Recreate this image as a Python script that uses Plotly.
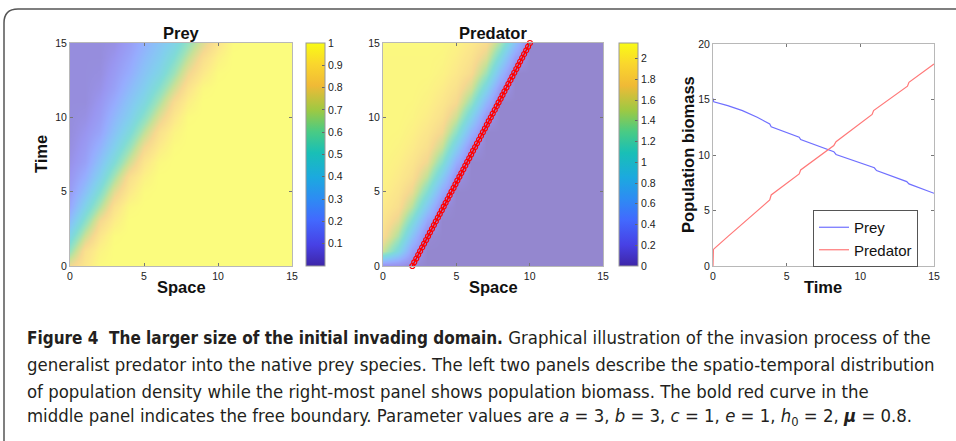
import plotly.graph_objects as go

W, H = 956, 441

# ---------------- data ----------------
space = list(range(16))          # x grid (Space) 0..15
time = list(range(16))           # t grid (Time) 0..15

# prey density u(t, x): rows = time 0..15, cols = space 0..15
prey_density = [
    [0.80, 0.90, 0.99, 1, 1, 1, 1, 1, 1, 1, 1, 1, 1, 1, 1, 1],
    [0.60, 0.86, 0.96, 1, 1, 1, 1, 1, 1, 1, 1, 1, 1, 1, 1, 1],
    [0.45, 0.71, 0.90, 0.99, 1, 1, 1, 1, 1, 1, 1, 1, 1, 1, 1, 1],
    [0.30, 0.56, 0.81, 0.93, 1, 1, 1, 1, 1, 1, 1, 1, 1, 1, 1, 1],
    [0.19, 0.43, 0.66, 0.87, 0.98, 1, 1, 1, 1, 1, 1, 1, 1, 1, 1, 1],
    [0.13, 0.31, 0.53, 0.76, 0.91, 0.99, 1, 1, 1, 1, 1, 1, 1, 1, 1, 1],
    [0.10, 0.22, 0.41, 0.63, 0.85, 0.95, 1, 1, 1, 1, 1, 1, 1, 1, 1, 1],
    [0.07, 0.15, 0.32, 0.50, 0.71, 0.89, 0.98, 1, 1, 1, 1, 1, 1, 1, 1, 1],
    [0.05, 0.12, 0.24, 0.40, 0.59, 0.80, 0.92, 0.99, 1, 1, 1, 1, 1, 1, 1, 1],
    [0.04, 0.09, 0.17, 0.32, 0.48, 0.68, 0.86, 0.96, 1, 1, 1, 1, 1, 1, 1, 1],
    [0.04, 0.06, 0.13, 0.26, 0.39, 0.56, 0.75, 0.90, 0.99, 1, 1, 1, 1, 1, 1, 1],
    [0.04, 0.04, 0.10, 0.20, 0.33, 0.46, 0.64, 0.83, 0.94, 1, 1, 1, 1, 1, 1, 1],
    [0.04, 0.04, 0.07, 0.15, 0.27, 0.39, 0.54, 0.72, 0.88, 0.98, 1, 1, 1, 1, 1, 1],
    [0.04, 0.04, 0.05, 0.12, 0.21, 0.33, 0.44, 0.61, 0.79, 0.91, 0.99, 1, 1, 1, 1, 1],
    [0.04, 0.04, 0.04, 0.09, 0.17, 0.28, 0.38, 0.52, 0.69, 0.85, 0.95, 1, 1, 1, 1, 1],
    [0.04, 0.04, 0.04, 0.06, 0.13, 0.23, 0.33, 0.43, 0.59, 0.75, 0.89, 0.99, 1, 1, 1, 1],
]

# predator density v(t, x)
predator_density = [
    [0.10, 0.10, 0.05, 0, 0, 0, 0, 0, 0, 0, 0, 0, 0, 0, 0, 0],
    [1.50, 1.00, 0.32, 0, 0, 0, 0, 0, 0, 0, 0, 0, 0, 0, 0, 0],
    [1.80, 1.38, 0.70, 0.04, 0, 0, 0, 0, 0, 0, 0, 0, 0, 0, 0, 0],
    [1.89, 1.64, 1.07, 0.37, 0, 0, 0, 0, 0, 0, 0, 0, 0, 0, 0, 0],
    [1.96, 1.82, 1.42, 0.75, 0.08, 0, 0, 0, 0, 0, 0, 0, 0, 0, 0, 0],
    [2.02, 1.90, 1.67, 1.12, 0.42, 0, 0, 0, 0, 0, 0, 0, 0, 0, 0, 0],
    [2.06, 1.97, 1.83, 1.45, 0.80, 0.13, 0, 0, 0, 0, 0, 0, 0, 0, 0, 0],
    [2.08, 2.02, 1.91, 1.70, 1.17, 0.47, 0, 0, 0, 0, 0, 0, 0, 0, 0, 0],
    [2.10, 2.06, 1.98, 1.84, 1.49, 0.85, 0.17, 0, 0, 0, 0, 0, 0, 0, 0, 0],
    [2.10, 2.09, 2.03, 1.92, 1.72, 1.22, 0.52, 0, 0, 0, 0, 0, 0, 0, 0, 0],
    [2.10, 2.10, 2.07, 1.99, 1.85, 1.53, 0.90, 0.21, 0, 0, 0, 0, 0, 0, 0, 0],
    [2.10, 2.10, 2.09, 2.04, 1.93, 1.76, 1.27, 0.57, 0, 0, 0, 0, 0, 0, 0, 0],
    [2.10, 2.10, 2.10, 2.07, 1.99, 1.86, 1.56, 0.94, 0.25, 0, 0, 0, 0, 0, 0, 0],
    [2.10, 2.10, 2.10, 2.10, 2.05, 1.95, 1.78, 1.32, 0.62, 0, 0, 0, 0, 0, 0, 0],
    [2.10, 2.10, 2.10, 2.10, 2.08, 2.00, 1.87, 1.60, 0.99, 0.29, 0, 0, 0, 0, 0, 0],
    [2.12, 2.12, 2.12, 2.12, 2.10, 2.05, 1.95, 1.80, 1.36, 0.66, 0, 0, 0, 0, 0, 0],
]

# free boundary h(t)
fb_time = [0, 0.25, 0.5, 0.75, 1, 1.25, 1.5, 1.75, 2, 2.25, 2.5, 2.75, 3, 3.25,
           3.5, 3.75, 4, 4.25, 4.5, 4.75, 5, 5.25, 5.5, 5.75, 6, 6.25, 6.5, 6.75,
           7, 7.25, 7.5, 7.75, 8, 8.25, 8.5, 8.75, 9, 9.25, 9.5, 9.75, 10, 10.25,
           10.5, 10.75, 11, 11.25, 11.5, 11.75, 12, 12.25, 12.5, 12.75, 13, 13.25,
           13.5, 13.75, 14, 14.25, 14.5, 14.75, 15]
fb_space = [2.00, 2.13, 2.27, 2.40, 2.53, 2.67, 2.80, 2.94, 3.07, 3.20, 3.34,
            3.47, 3.60, 3.74, 3.87, 4.01, 4.14, 4.27, 4.41, 4.54, 4.67, 4.81,
            4.94, 5.07, 5.21, 5.34, 5.48, 5.61, 5.74, 5.88, 6.01, 6.14, 6.28,
            6.41, 6.55, 6.68, 6.81, 6.95, 7.08, 7.21, 7.35, 7.48, 7.62, 7.75,
            7.88, 8.02, 8.15, 8.28, 8.42, 8.55, 8.69, 8.82, 8.95, 9.09, 9.22,
            9.35, 9.49, 9.62, 9.76, 9.89, 10.02]

# population biomass
prey_t = [0, 0.05, 1, 2, 3, 3.85, 3.95, 5, 5.85, 5.95, 7, 8.2, 8.35, 9, 10,
          10.95, 11.1, 12, 13.15, 13.3, 14, 15]
prey_biomass = [15.1, 14.8, 14.45, 14.0, 13.4, 12.8, 12.55, 12.05, 11.6, 11.4,
                10.9, 10.3, 10.05, 9.75, 9.3, 8.85, 8.6, 8.15, 7.6, 7.4, 7.05, 6.55]
pred_t = [0, 0.03, 1, 2, 3, 3.85, 3.95, 5, 5.85, 5.95, 7, 8.2, 8.35, 9, 10,
          10.8, 10.9, 12, 13.2, 13.3, 14, 15]
pred_biomass = [0, 1.5, 2.65, 3.8, 4.95, 5.95, 6.4, 7.45, 8.3, 8.65, 9.65,
                10.85, 11.2, 11.85, 12.85, 13.65, 14.0, 15.05, 16.2, 16.55, 17.25, 18.2]

axis_ticks = [0, 5, 10, 15]
biomass_ticks = [0, 5, 10, 15, 20]
prey_cb_ticks = [0.1, 0.2, 0.3, 0.4, 0.5, 0.6, 0.7, 0.8, 0.9, 1]
prey_cb_text = ["0.1", "0.2", "0.3", "0.4", "0.5", "0.6", "0.7", "0.8", "0.9", "1"]
pred_cb_ticks = [0, 0.2, 0.4, 0.6, 0.8, 1, 1.2, 1.4, 1.6, 1.8, 2]
pred_cb_text = ["0", "0.2", "0.4", "0.6", "0.8", "1", "1.2", "1.4", "1.6", "1.8", "2"]

# MATLAB parula (sampled)
parula = [
    [0.000, "rgb(62,38,168)"],
    [0.095, "rgb(71,65,229)"],
    [0.206, "rgb(66,105,254)"],
    [0.302, "rgb(45,140,243)"],
    [0.397, "rgb(28,169,223)"],
    [0.508, "rgb(25,191,182)"],
    [0.603, "rgb(74,203,132)"],
    [0.698, "rgb(157,201,67)"],
    [0.810, "rgb(240,186,54)"],
    [0.905, "rgb(250,214,45)"],
    [1.000, "rgb(249,251,21)"],
]


def px(x):
    return x / W


def py(y):
    return 1 - y / H


FONT = "Liberation Sans"
TICKFONT = dict(family=FONT, size=10.5, color="#222")

fig = go.Figure()

cb_common = dict(thickness=19, len=(266 - 43) / H, lenmode="fraction",
                 y=py((43 + 266) / 2), yanchor="middle", xanchor="left",
                 xpad=0, ypad=0, ticks="inside", ticklen=3, tickcolor="#666",
                 outlinecolor="#999", outlinewidth=1, tickfont=TICKFONT)

fig.add_trace(go.Heatmap(
    x=space, y=time, z=prey_density, colorscale=parula, zmin=0, zmax=1,
    zsmooth="best", opacity=0.55, xaxis="x", yaxis="y", hoverinfo="skip",
    colorbar=dict(x=px(306), tickvals=prey_cb_ticks, ticktext=prey_cb_text, **cb_common)))

fig.add_trace(go.Heatmap(
    x=space, y=time, z=predator_density, colorscale=parula, zmin=0, zmax=2.15,
    zsmooth="best", opacity=0.55, xaxis="x2", yaxis="y2", hoverinfo="skip",
    colorbar=dict(x=px(619), tickvals=pred_cb_ticks, ticktext=pred_cb_text, **cb_common)))

fig.add_trace(go.Scatter(
    x=fb_space, y=fb_time, mode="lines+markers", xaxis="x2", yaxis="y2",
    line=dict(color="#ff0000", width=1.6),
    marker=dict(symbol="circle-open", size=5, color="#ff0000", line=dict(width=1.2)),
    showlegend=False, cliponaxis=False))

fig.add_trace(go.Scatter(
    x=prey_t, y=prey_biomass, mode="lines", name="Prey", xaxis="x3", yaxis="y3",
    line=dict(color="#6f6fff", width=1.2)))
fig.add_trace(go.Scatter(
    x=pred_t, y=pred_biomass, mode="lines", name="Predator", xaxis="x3", yaxis="y3",
    line=dict(color="#ff7878", width=1.2)))

ax = dict(showline=True, linecolor="#b8b8b8", linewidth=1, mirror="ticks",
          ticks="inside", ticklen=3, tickcolor="#777", showgrid=False,
          zeroline=False, tickfont=TICKFONT, fixedrange=True)

fig.update_layout(
    width=W, height=H,
    margin=dict(l=0, r=0, t=0, b=0, autoexpand=False),
    paper_bgcolor="white", plot_bgcolor="white",
    font=dict(family=FONT, color="#111"),
    xaxis=dict(domain=[px(70), px(292)], range=[0, 15], tickvals=axis_ticks, anchor="y", **ax),
    yaxis=dict(domain=[py(266), py(43)], range=[0, 15], tickvals=axis_ticks, anchor="x", **ax),
    xaxis2=dict(domain=[px(383), px(603)], range=[0, 15], tickvals=axis_ticks, anchor="y2", **ax),
    yaxis2=dict(domain=[py(266), py(43)], range=[0, 15], tickvals=axis_ticks, anchor="x2", **ax),
    xaxis3=dict(domain=[px(713), px(934)], range=[0, 15], tickvals=axis_ticks, anchor="y3", **ax),
    yaxis3=dict(domain=[py(266), py(44)], range=[0, 20], tickvals=biomass_ticks, anchor="x3", **ax),
    legend=dict(x=px(813), y=py(210), xanchor="left", yanchor="top",
                bgcolor="white", bordercolor="#555", borderwidth=1,
                font=dict(family=FONT, size=15, color="#111"),
                itemwidth=30, tracegroupgap=0),
    showlegend=True,
)

labels = [
    ("<b>Prey</b>", 181, 33, 0),
    ("<b>Predator</b>", 493, 33, 0),
    ("<b>Space</b>", 181, 287, 0),
    ("<b>Space</b>", 493, 287, 0),
    ("<b>Time</b>", 823, 287, 0),
    ("<b>Time</b>", 41, 154, -90),
    ("<b>Population biomass</b>", 688, 155, -90),
]
for text, x, y, ang in labels:
    fig.add_annotation(text=text, x=px(x), y=py(y), xref="paper", yref="paper",
                       xanchor="center", yanchor="middle", textangle=ang,
                       showarrow=False, font=dict(family=FONT, size=16.5, color="#111"))

CAP_FONT = "DejaVu Sans Condensed"
caption = [
    ("<span style=\"font-size:17px\"><b>Figure 4  The larger size of the initial invading domain.</b></span> "
     "Graphical illustration of the invasion process of the", 337),
    ("generalist predator into the native prey species. The left two panels describe the spatio-temporal distribution", 364),
    ("of population density while the right-most panel shows population biomass. The bold red curve in the", 391),
    ("middle panel indicates the free boundary. Parameter values are <i>a</i> = 3, <i>b</i> = 3, <i>c</i> = 1, "
     "<i>e</i> = 1, <i>h</i><sub>0</sub> = 2, <b><i>μ</i></b> = 0.8.", 417),
]
for text, y in caption:
    fig.add_annotation(text=text, x=px(25), y=py(y), xref="paper", yref="paper",
                       xanchor="left", yanchor="middle", showarrow=False, align="left",
                       font=dict(family=CAP_FONT, size=18.4, color="#231f20"))

# rounded frame (top and left edges visible)
r = 14
fig.add_shape(type="path", xref="paper", yref="paper",
              path=(f"M {px(4)},{py(441)} L {px(4)},{py(9 + r)} "
                    f"Q {px(4)},{py(9)} {px(4 + r)},{py(9)} L {px(956)},{py(9)}"),
              line=dict(color="#555", width=1.5))

fig.write_html(
    "out.html",
    config={"displayModeBar": False, "staticPlot": True},
    post_script="document.body.style.margin='0px';document.documentElement.style.overflow='hidden';",
)
